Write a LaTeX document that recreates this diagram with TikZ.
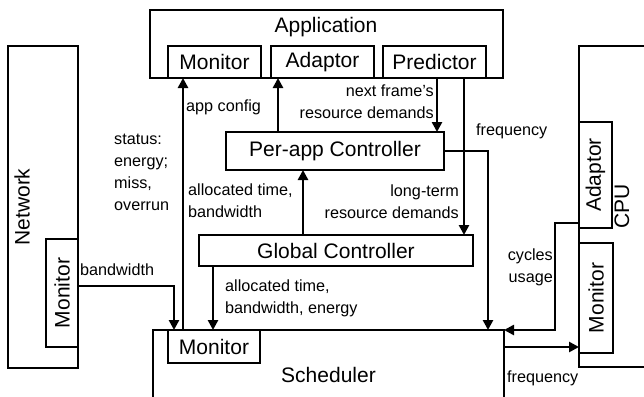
\documentclass[tikz,border=0pt]{standalone}
\usepackage{fontspec}
\setmainfont{Liberation Sans}
\usetikzlibrary{arrows.meta}
\begin{document}
\begin{tikzpicture}[x=1pt,y=-1pt,
  box/.style={draw, line width=1.3pt, inner sep=0pt, outer sep=0pt, font=\fontsize{21}{24}\selectfont},
  big/.style={inner sep=0pt, font=\fontsize{21}{24}\selectfont},
  lbl/.style={inner sep=0pt, font=\fontsize{16.2}{22}\selectfont},
  arr/.style={line width=2.7pt, -{Triangle[length=10pt,width=10pt]}}
]
\useasboundingbox (0,0) rectangle (644,396);
\clip (0,0) rectangle (644,396);
% boxes
\node[box, minimum width=353pt, minimum height=68pt] (app) at (326.5,44) {};
\node[big] (appT) at (326,27) {Application};
\node[box, minimum width=93pt, minimum height=32pt] (appmon) at (214.5,62) {Monitor};
\node[box, minimum width=103pt, minimum height=32pt] (adaptor) at (322.5,62) {Adaptor};
\node[box, minimum width=103pt, minimum height=32pt] (predictor) at (434.5,62) {Predictor};
\node[box, minimum width=218pt, minimum height=38pt] (perapp) at (335,151) {Per-app Controller};
\node[box, minimum width=274pt, minimum height=31pt] (glob) at (336,250.5) {Global Controller};
\node[box, minimum width=351pt, minimum height=90pt] (sched) at (328.5,375) {Scheduler};
\node[box, minimum width=92pt, minimum height=33pt] (schedmon) at (214,346.5) {Monitor};
\node[box, minimum width=70pt, minimum height=322pt] (net) at (43,207) {};
\node[big, rotate=90] (netT) at (22,207) {Network};
\node[box, minimum width=32pt, minimum height=108pt] (netmon) at (62,293) {};
\node[big, rotate=90] (netmonT) at (62,293) {Monitor};
\node[box, minimum width=91pt, minimum height=321pt] (cpu) at (624.5,206.5) {};
\node[big, rotate=90] (cpuT) at (622,206) {CPU};
\node[box, minimum width=33pt, minimum height=106pt] (cpuad) at (595.5,175) {};
\node[big, rotate=90] (cpuadT) at (595.5,175) {Adaptor};
\node[box, minimum width=34pt, minimum height=110pt] (cpumon) at (596,298) {};
\node[big, rotate=90] (cpumonT) at (596,298) {Monitor};
% labels
\node[lbl, anchor=west] (lac) at (186,107) {app config};
\node[lbl, anchor=west, align=left] (lst) at (114,172) {status:\\energy;\\miss,\\overrun};
\node[lbl, anchor=west, align=left] (lat) at (188,201) {allocated time,\\bandwidth};
\node[lbl, anchor=east, align=right] (lnf) at (434,102) {next frame's\\resource demands};
\node[lbl, anchor=east, align=right] (llt) at (459,202) {long-term\\resource demands};
\node[lbl, anchor=west] (lf1) at (476,131) {frequency};
\node[lbl, anchor=west] (lbw) at (80,270) {bandwidth};
\node[lbl, anchor=west, align=left] (lat2) at (225,298) {allocated time,\\bandwidth, energy};
\node[lbl, anchor=east, align=right] (lcu) at (553,267) {cycles\\usage};
\node[lbl, anchor=west] (lf2) at (507,378) {frequency};
% connectors
\draw[arr] ([yshift=7pt]netmon.east) -| (174,0 |- schedmon.north);
\draw[arr] (183,0 |- schedmon.north) -- (183,0 |- appmon.south);
\draw[arr] (213,0 |- glob.south) -- (213,0 |- schedmon.north);
\draw[arr] (278,0 |- perapp.north) -- (278,0 |- adaptor.south);
\draw[arr] (303,0 |- glob.north) -- (303,0 |- perapp.south);
\draw[arr] (437,0 |- predictor.south) -- (437,0 |- perapp.north);
\draw[arr] (464,0 |- predictor.south) -- (464,0 |- glob.north);
\draw[arr] (perapp.east) -| (488,0 |- sched.north);
\draw[arr] (cpu.west |- 0,223) -| (555,0 |- sched.north) -- (sched.north east);
\draw[arr] (sched.east |- 0,347) -- (cpumon.west |- 0,347);
\end{tikzpicture}
\end{document}
